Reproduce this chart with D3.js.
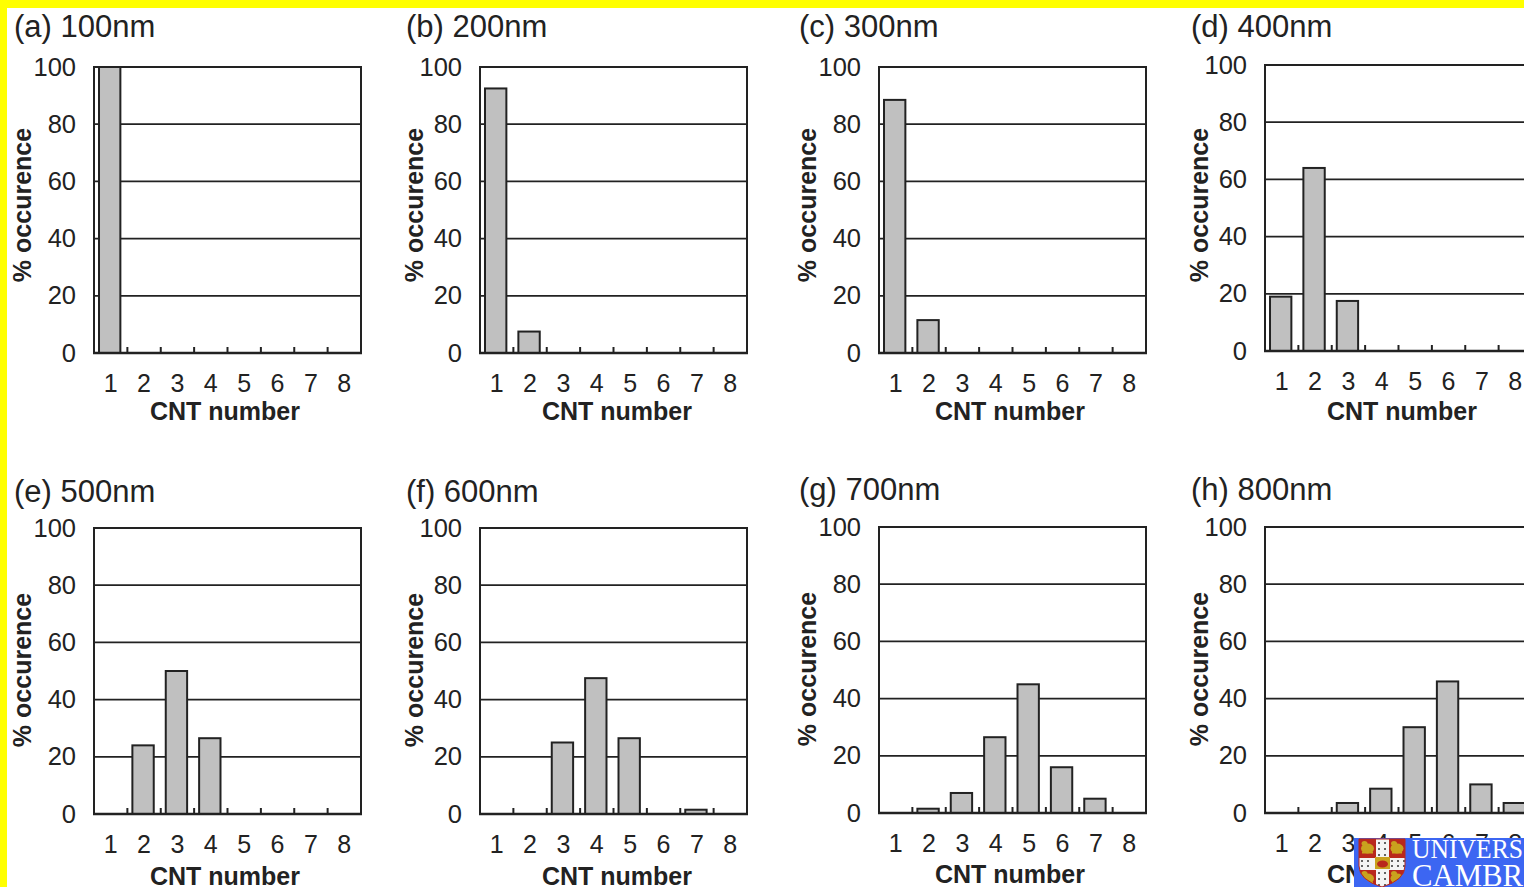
<!DOCTYPE html>
<html><head><meta charset="utf-8">
<script src="https://cdn.jsdelivr.net/npm/d3@7"></script>
<style>html,body{margin:0;padding:0;background:#fff;overflow:hidden}
svg{display:block}
text{font-family:"Liberation Sans",Arial,sans-serif;fill:#222}
</style></head><body><div id="c"></div>
<script>
const categories=[1,2,3,4,5,6,7,8];
const yTicks=[0,20,40,60,80,100];
const titles=["(a) 100nm","(b) 200nm","(c) 300nm","(d) 400nm","(e) 500nm","(f) 600nm","(g) 700nm","(h) 800nm"];
const valuesA=[100,0,0,0,0,0,0,0];
const valuesB=[92.5,7.5,0,0,0,0,0,0];
const valuesC=[88.5,11.5,0,0,0,0,0,0];
const valuesD=[19,64,17.5,0,0,0,0,0];
const valuesE=[0,24,50,26.5,0,0,0,0];
const valuesF=[0,0,25,47.5,26.5,0,1.5,0];
const valuesG=[0,1.5,7,26.5,45,16,5,0];
const valuesH=[0,0,3.5,8.5,30,46,10,3.5];
const series=[valuesA,valuesB,valuesC,valuesD,valuesE,valuesF,valuesG,valuesH];
const xLeft=[94,480,879,1265,94,480,879,1265];
const yTop=[67,67,67,65,528,528,527,527];
const titleX=[14,406,799,1191,14,406,799,1191];
const titleY=[37,37,37,37,502,502,500,500];
const yLabelX=[31,423,816,1208,31,423,816,1208];
const yLabelY=[205,205,205,205,670,670,669,669];
const xLabelX=[225,617,1010,1402,225,617,1010,1402];
const xLabelY=[420,420,420,420,885,885,883,883];
const W=1524,H=887,pw=267,ph=286,ink="#222";
const svg=d3.select("#c").append("svg").attr("width",W).attr("height",H);
svg.append("rect").attr("width",W).attr("height",H).attr("fill","#fff");
svg.append("rect").attr("width",W).attr("height",8).attr("fill","#ffff00");
svg.append("rect").attr("width",7).attr("height",H).attr("fill","#ffff00");

series.forEach((vals,i)=>{
  const g=svg.append("g").attr("transform",`translate(${xLeft[i]},${yTop[i]})`);
  const x=d3.scaleBand().domain(categories).range([-1,pw-1]).paddingInner(0.36).paddingOuter(0.18);
  const xb=d3.scaleBand().domain(categories).range([0,pw]);
  const y=d3.scaleLinear().domain([0,100]).range([ph,0]);
  g.append("g").selectAll("line").data(yTicks.filter(t=>t>0&&t<100)).join("line")
    .attr("x1",0).attr("x2",pw).attr("y1",d=>y(d)).attr("y2",d=>y(d))
    .attr("stroke",ink).attr("stroke-width",1.7);
  g.append("rect").attr("width",pw).attr("height",ph).attr("fill","none").attr("stroke",ink).attr("stroke-width",2);
  g.append("g").selectAll("line").data(categories.slice(1)).join("line")
    .attr("x1",d=>xb(d)).attr("x2",d=>xb(d)).attr("y1",ph).attr("y2",ph-6)
    .attr("stroke",ink).attr("stroke-width",2);
  g.append("g").selectAll("rect").data(categories.map((c,k)=>({c,v:vals[k]})).filter(d=>d.v>0)).join("rect")
    .attr("x",d=>x(d.c)).attr("y",d=>y(d.v)).attr("width",x.bandwidth()).attr("height",d=>ph-y(d.v))
    .attr("fill","#c0c0c0").attr("stroke",ink).attr("stroke-width",2);
  g.append("line").attr("x1",-1).attr("x2",pw+1).attr("y1",ph).attr("y2",ph).attr("stroke",ink).attr("stroke-width",2.5);
  const ax=g.append("g").attr("transform",`translate(0,${ph})`).call(d3.axisBottom(xb).tickSize(0).tickPadding(21));
  ax.select(".domain").remove();
  ax.selectAll("text").attr("font-size",25).attr("fill",ink);
  const ay=g.append("g").call(d3.axisLeft(y).tickValues(yTicks).tickSize(0).tickPadding(18));
  ay.select(".domain").remove();
  ay.selectAll("text").attr("font-size",25.5).attr("fill",ink);
  svg.append("text").attr("x",xLabelX[i]).attr("y",xLabelY[i]).attr("text-anchor","middle")
    .attr("font-size",25).attr("font-weight","bold").text("CNT number");
  svg.append("text").attr("transform",`translate(${yLabelX[i]},${yLabelY[i]}) rotate(-90)`).attr("text-anchor","middle")
    .attr("font-size",25).attr("font-weight","bold").text("% occurence");
  svg.append("text").attr("x",titleX[i]).attr("y",titleY[i]).attr("font-size",31).text(titles[i]);
});

// logo (decorative crest drawn from plain shapes)
const lg=svg.append("g");
lg.append("rect").attr("x",1354).attr("y",838).attr("width",170).attr("height",49).attr("fill","#3c66f2");
const shield="M1359 839H1405V866Q1405 880 1382 887Q1359 880 1359 866Z";
svg.append("clipPath").attr("id","sh").append("path").attr("d",shield);
const cr=lg.append("g").attr("clip-path","url(#sh)");
cr.append("path").attr("d",shield).attr("fill","#f4f4f4");
[[1359,839,17,19],[1389,839,16,19],[1359,870,17,17],[1389,870,16,17]].forEach(q=>{
  cr.append("rect").attr("x",q[0]).attr("y",q[1]).attr("width",q[2]).attr("height",q[3]).attr("fill","#b9281c");
  cr.append("ellipse").attr("cx",q[0]+q[2]/2).attr("cy",q[1]+q[3]/2).attr("rx",6.5).attr("ry",5).attr("fill","#c9a21e");
  cr.append("ellipse").attr("cx",q[0]+q[2]/2-3).attr("cy",q[1]+q[3]/2-5).attr("rx",3).attr("ry",2.5).attr("fill","#c9a21e");
  cr.append("rect").attr("x",q[0]+3).attr("y",q[1]+q[3]/2+3).attr("width",q[2]-6).attr("height",2).attr("fill","#c9a21e");
});
for(let px=1362;px<1405;px+=6)if(px<1374||px>1390)[861,866].forEach(py=>cr.append("circle").attr("cx",px).attr("cy",py).attr("r",1).attr("fill","#333"));
for(let py=843;py<886;py+=6)if(py<857||py>871)[1379,1385].forEach(px=>cr.append("circle").attr("cx",px).attr("cy",py).attr("r",1).attr("fill","#333"));
cr.append("rect").attr("x",1375).attr("y",857).attr("width",15).attr("height",12).attr("fill","#c9a21e");
cr.append("ellipse").attr("cx",1382.5).attr("cy",864).attr("rx",5.5).attr("ry",3.5).attr("fill","#b9281c");
lg.append("path").attr("d",shield).attr("fill","none").attr("stroke","#b9281c").attr("stroke-width",1);
const logoText=["UNIVERS","CAMBR"];
lg.selectAll("text.l").data(logoText).join("text").attr("class","l")
  .attr("x",1412).attr("y",(d,i)=>i?886:858)
  .attr("textLength",111).attr("lengthAdjust","spacingAndGlyphs")
  .attr("font-size",(d,i)=>i?31:27).style("font-family","'Liberation Serif',serif").style("fill","#fff").text(d=>d);
</script></body></html>
